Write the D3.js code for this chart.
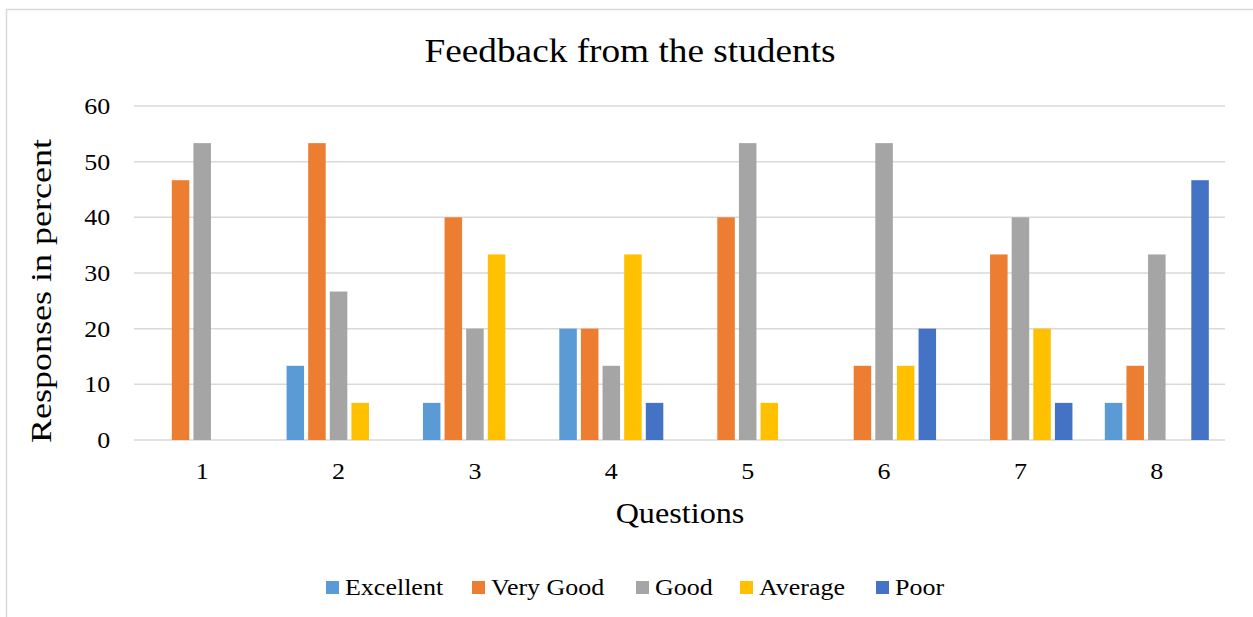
<!DOCTYPE html>
<html>
<head>
<meta charset="utf-8">
<script src="https://cdn.jsdelivr.net/npm/d3@7"></script>
<style>
  body { margin: 0; background: #fff; }
  text { font-family: "Liberation Serif", "Times New Roman", serif; fill: #000; }
</style>
</head>
<body>
<div class="chart"></div>
<script>
const questions = ['1', '2', '3', '4', '5', '6', '7', '8']
const seriesNames = ['Excellent', 'Very Good', 'Good', 'Average', 'Poor']
const excellent = [0, 13.33, 6.67, 20, 0, 0, 0, 6.67]
const veryGood = [46.67, 53.33, 40, 20, 40, 13.33, 33.33, 13.33]
const good = [53.33, 26.67, 20, 13.33, 53.33, 53.33, 40, 33.33]
const average = [0, 6.67, 33.33, 33.33, 6.67, 13.33, 20, 0]
const poor = [0, 0, 0, 6.67, 0, 20, 6.67, 46.67]
const yTicks = [0, 10, 20, 30, 40, 50, 60]
const colours = ['#5B9BD5', '#ED7D31', '#A5A5A5', '#FFC000', '#4472C4']

const seriesValues = [excellent, veryGood, good, average, poor]
const rows = questions.map((q, i) => ({
    q: q,
    vals: seriesNames.map((s, j) => ({ name: s, value: seriesValues[j][i], colour: colours[j] }))
}))

const fullWidth = 1253, fullHeight = 617
const margin = { top: 106, left: 134 }
const width = 1225 - margin.left
const height = 440 - margin.top
// the original text looks a little wider than the font draws it
const stretch = 1.13

let svg = d3.select('.chart')
    .append('svg')
    .attr('width', fullWidth)
    .attr('height', fullHeight)

// chart frame (only left and top show in the picture)
svg.append('rect')
    .attr('x', 6.5).attr('y', 9.5)
    .attr('width', 1400).attr('height', 800)
    .style('fill', 'none')
    .style('stroke', '#D9D9D9')
    .style('stroke-width', 1.5)

let g = svg.append('g')
    .attr('transform', `translate(${margin.left}, ${margin.top})`)

let x0 = d3.scaleBand().domain(questions).range([0, width]).padding(0)
let groupWidth = 104
let x1 = d3.scaleBand().domain(seriesNames).range([0, groupWidth]).paddingInner(0.19).paddingOuter(0)
let y = d3.scaleLinear().domain([0, 60]).range([height, 0])

// gridlines
g.append('g')
    .selectAll('line')
    .data(yTicks)
    .enter().append('line')
    .attr('x1', 0).attr('x2', width)
    .attr('y1', d => y(d)).attr('y2', d => y(d))
    .style('stroke', '#D9D9D9')
    .style('stroke-width', 1.5)

// y axis labels
let yAxis = d3.axisLeft(y).tickValues(yTicks).tickSize(0).tickPadding(21)
let gY = g.append('g').call(yAxis)
gY.select('.domain').remove()
gY.selectAll('text')
    .style('font-size', '23px')
    .style('font-family', '"Liberation Serif", serif')
    .attr('transform', `scale(${stretch}, 1)`)

// x axis labels
let xAxis = d3.axisBottom(x0).tickSize(0).tickPadding(23)
let gX = g.append('g').attr('transform', `translate(0, ${height})`).call(xAxis)
gX.select('.domain').remove()
gX.selectAll('text')
    .style('font-size', '23px')
    .style('font-family', '"Liberation Serif", serif')
    .attr('transform', `scale(${stretch}, 1)`)

// bars
let groups = g.selectAll('.grp')
    .data(rows)
    .enter().append('g')
    .attr('class', 'grp')
    .attr('transform', d => `translate(${x0(d.q) + (x0.bandwidth() - groupWidth) / 2}, 0)`)

groups.selectAll('rect')
    .data(d => d.vals.filter(v => v.value > 0))
    .enter().append('rect')
    .attr('x', d => x1(d.name))
    .attr('y', d => y(d.value))
    .attr('width', x1.bandwidth())
    .attr('height', d => height - y(d.value))
    .style('fill', d => d.colour)

// title and axis titles
svg.append('text')
    .attr('transform', `translate(630, 62) scale(${stretch}, 1)`)
    .attr('text-anchor', 'middle')
    .style('font-size', '33px')
    .text('Feedback from the students')

svg.append('text')
    .attr('transform', `translate(680, 523) scale(${stretch}, 1)`)
    .attr('text-anchor', 'middle')
    .style('font-size', '28.5px')
    .text('Questions')

svg.append('text')
    .attr('transform', 'translate(51, 291) rotate(-90) scale(1.2, 1)')
    .attr('text-anchor', 'middle')
    .style('font-size', '30px')
    .text('Responses in percent')

// legend
let legendX = [326, 472, 636, 740, 876]
let legend = svg.append('g')
    .selectAll('g')
    .data(seriesNames)
    .enter().append('g')
    .attr('transform', (d, i) => `translate(${legendX[i]}, 581)`)

legend.append('rect')
    .attr('width', 13).attr('height', 13)
    .style('fill', (d, i) => colours[i])

legend.append('text')
    .attr('transform', `translate(19, 14) scale(${stretch}, 1)`)
    .style('font-size', '23px')
    .text(d => d)
</script>
</body>
</html>
